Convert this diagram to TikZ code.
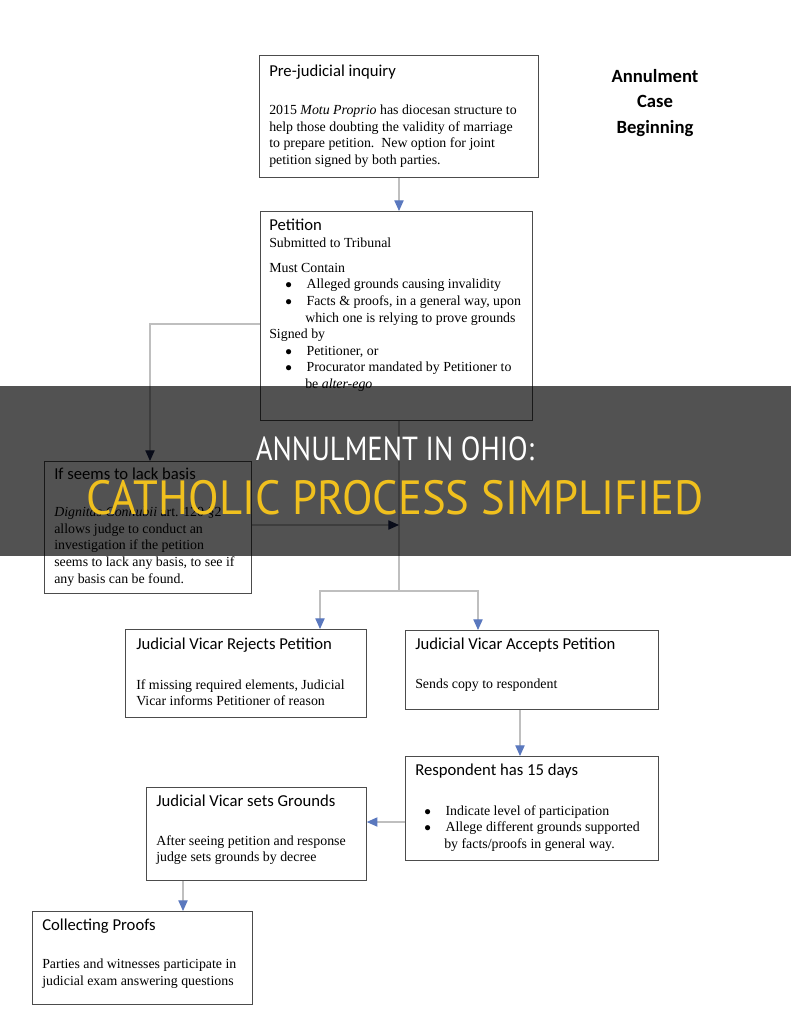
\documentclass[tikz,border=0pt]{standalone}
\usepackage{fontspec}
\setmainfont{Liberation Serif}
\newfontfamily\hdfont{Carlito}
\newfontfamily\bandfont{PT Sans}
\usetikzlibrary{arrows.meta,positioning}
\definecolor{arrblue}{RGB}{90,120,190}
\definecolor{darkarr}{RGB}{30,40,80}
\begin{document}
\begin{tikzpicture}[x=0.75pt,y=-0.75pt,
  box/.style={draw=black!70,line width=0.6pt,rectangle,anchor=north west,inner sep=0},
  hd/.style={anchor=north west,font=\hdfont\fontsize{12.5}{14}\selectfont,inner sep=0},
  bd/.style={anchor=north west,font=\fontsize{10.4}{12.4}\selectfont,inner sep=0,align=left},
  con/.style={draw=black!25,line width=0.8pt},
  arr/.style={con,-{Triangle[width=7pt,length=8pt,fill=arrblue,color=arrblue]}},
  darr/.style={con,-{Triangle[width=7pt,length=8pt,fill=darkarr,color=darkarr]}}]
\useasboundingbox (0,0) rectangle (791,1024);
\def\bx#1#2#3#4#5{\node[box,minimum width={(#4-#2)*0.75pt},minimum height={(#5-#3)*0.75pt}] (#1) at (#2,#3) {};}
\bx{pre}{259}{55}{538}{177}
\bx{pet}{260}{211}{532}{420}
\bx{bas}{44}{461}{251}{593}
\bx{rej}{125}{629}{366}{717}
\bx{acc}{405}{630}{658}{709}
\bx{res}{405}{756}{658}{860}
\bx{grd}{146}{787}{366}{880}
\bx{col}{32}{911}{252}{1004}

\node[hd] (preh) at (269,65) {Pre-judicial inquiry};
\node[bd] (pret) at (269,105) {2015 \textit{Motu Proprio} has diocesan structure to\\help those doubting the validity of marriage\\to prepare petition.\ \ New option for joint\\petition signed by both parties.};
\node[font=\hdfont\bfseries\fontsize{14}{19}\selectfont,align=center] (title) at (655,103) {Annulment\\Case\\Beginning};

\node[hd] (peth) at (269,219) {Petition};
\node[bd] (pett) at (269,238) {Submitted to Tribunal\\[6pt]
Must Contain\\
\hspace*{12pt}$\bullet$\hspace{11pt}Alleged grounds causing invalidity\\
\hspace*{12pt}$\bullet$\hspace{11pt}Facts \& proofs, in a general way, upon\\
\hspace*{27pt}which one is relying to prove grounds\\
Signed by\\
\hspace*{12pt}$\bullet$\hspace{11pt}Petitioner, or\\
\hspace*{12pt}$\bullet$\hspace{11pt}Procurator mandated by Petitioner to\\
\hspace*{27pt}be \textit{alter-ego}};

\node[hd] (bash) at (54,468) {If seems to lack basis};
\node[bd] (bast) at (54,507) {\textit{Dignitas Connubii} art. 120 \S2\\allows judge to conduct an\\investigation if the petition\\seems to lack any basis, to see if\\any basis can be found.};

\node[hd] (rejh) at (136,638) {Judicial Vicar Rejects Petition};
\node[bd] (rejt) at (136,679) {If missing required elements, Judicial\\Vicar informs Petitioner of reason};
\node[hd] (acch) at (415,638) {Judicial Vicar Accepts Petition};
\node[bd] (acct) at (415,679) {Sends copy to respondent};
\node[hd] (resh) at (415,764) {Respondent has 15 days};
\node[bd] (rest) at (424,805) {$\bullet$\hspace{11pt}Indicate level of participation\\
$\bullet$\hspace{11pt}Allege different grounds supported\\
\hspace*{15pt}by facts/proofs in general way.};
\node[hd] (grdh) at (156,795) {Judicial Vicar sets Grounds};
\node[bd] (grdt) at (156,835) {After seeing petition and response\\judge sets grounds by decree};
\node[hd] (colh) at (42,919) {Collecting Proofs};
\node[bd] (colt) at (42,959) {Parties and witnesses participate in\\judicial exam answering questions};

\draw[arr] (pre.south -| 399,0) -- (pet.north -| 399,0);
\coordinate (j1) at (399,591);
\draw[darr] (pet.west |- 0,324) -| (bas.north -| 150,0);
\draw[con] (pet.south -| 399,0) -- (j1);
\draw[darr] (bas.east |- 0,525) -- (399,525);
\draw[arr] (j1) -| (rej.north -| 320,0);
\draw[arr] (j1) -| (acc.north -| 478,0);
\draw[arr] (acc.south -| 520,0) -- (res.north -| 520,0);
\draw[arr] (res.west |- 0,822) -- (grd.east |- 0,822);
\draw[arr] (grd.south -| 183,0) -- (col.north -| 183,0);

\fill[black,opacity=0.68] (0,386) rectangle (791,556);
\node[font=\bandfont\fontsize{25}{28}\selectfont,text=white,xscale=0.86,transform shape] (b1) at (395,449) {ANNULMENT IN OHIO:};
\node[font=\bandfont\fontsize{36}{38}\selectfont,text={rgb,255:red,240;green,192;blue,30},xscale=0.93,transform shape] (b2) at (395,498) {CATHOLIC PROCESS SIMPLIFIED};
\end{tikzpicture}
\end{document}
